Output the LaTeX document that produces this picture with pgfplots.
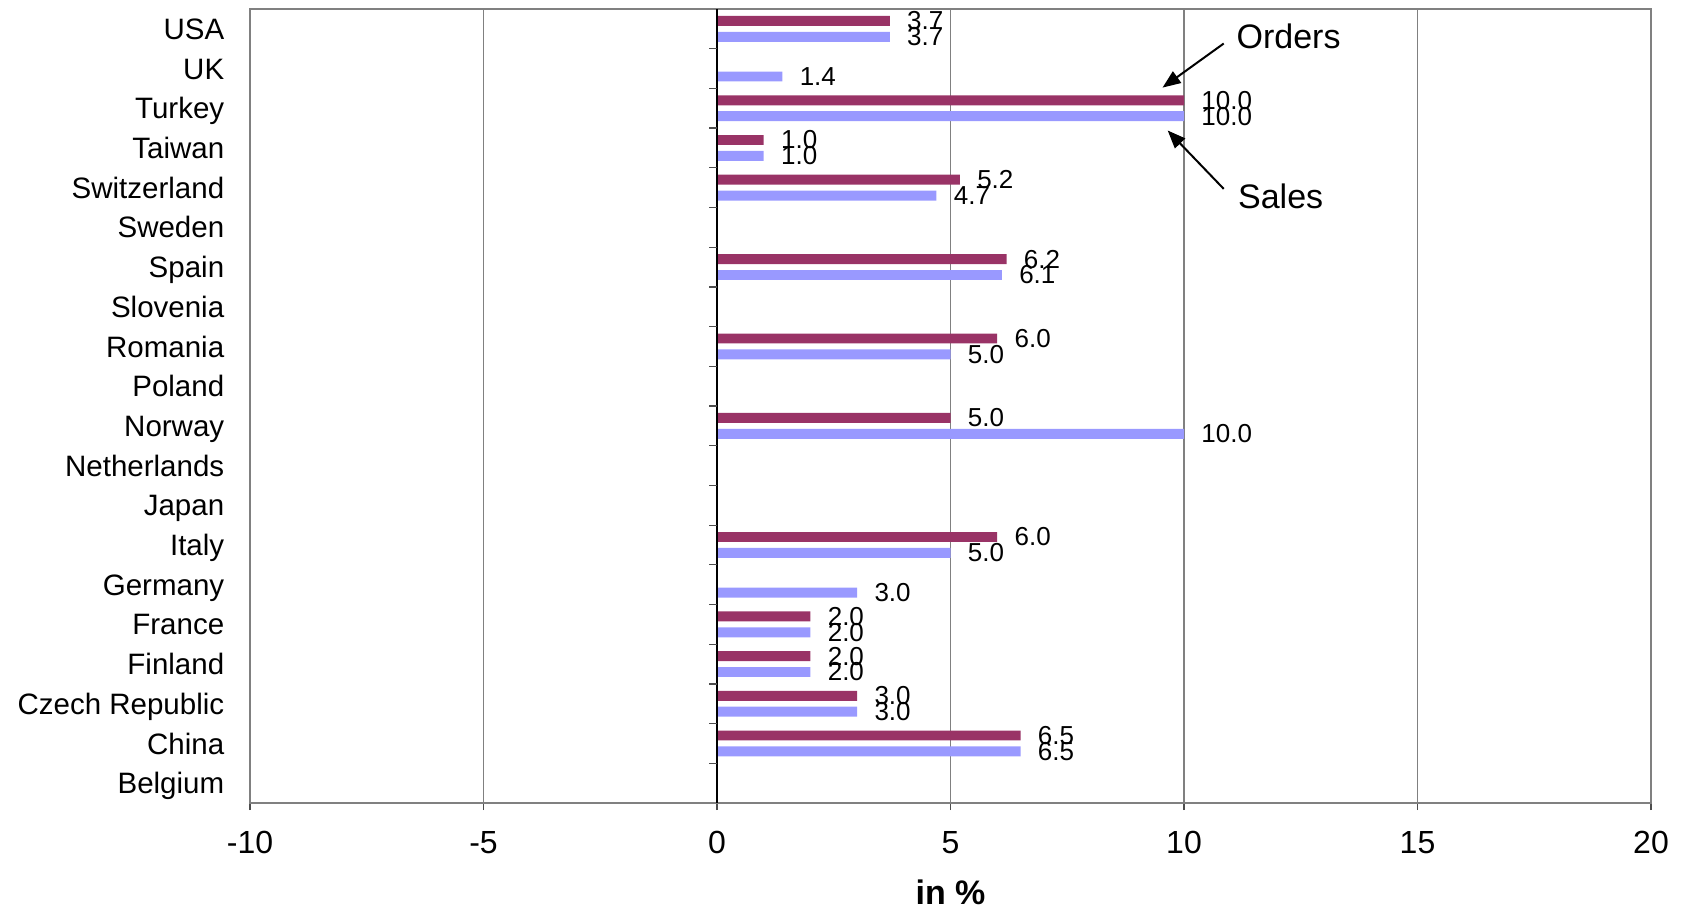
\documentclass[border=0pt]{standalone}
\usepackage{fontspec}
\setmainfont{Liberation Sans}
\usepackage{pgfplots}
\pgfplotsset{compat=1.18}
\usetikzlibrary{arrows.meta}
\definecolor{orders}{HTML}{993366}
\definecolor{sales}{HTML}{9999FF}
\definecolor{framegray}{HTML}{808080}
\begin{document}
\begin{tikzpicture}
\begin{axis}[
  scale only axis, width=700.5pt, height=397pt,
  xmin=-10, xmax=20, ymin=-0.5, ymax=19.5,
  xtick={-10,-5,...,20},
  ytick={0,...,19},
  yticklabels={Belgium,China,Czech Republic,Finland,France,Germany,Italy,Japan,Netherlands,Norway,Poland,Romania,Slovenia,Spain,Sweden,Switzerland,Taiwan,Turkey,UK,USA},
  /pgf/number format/assume math mode=true,
  xticklabel style={font=\fontsize{16}{16}\selectfont, anchor=center, inner sep=0pt, yshift=-16.2pt},
  yticklabel style={font=\fontsize{14.75}{15}\selectfont, anchor=base east, inner sep=0pt, xshift=-9.2pt, yshift=-5.3pt},
  xlabel={in \%},
  xlabel style={font=\fontsize{17}{17}\selectfont\bfseries, at={(axis description cs:0.5,0)}, anchor=center, inner sep=0pt, yshift=-44.5pt},
  xmajorgrids, grid style={framegray, line width=0.6pt},
  axis line style={framegray, line width=1.2pt},
  tick align=outside, xtick pos=bottom,
  xtick style={framegray!60!black, line width=0.6pt},
  ytick style={draw=none},
  major tick length=3.5pt,
  xbar, bar width=0.25,
  point meta=x,
  nodes near coords={\pgfmathprintnumber[fixed,fixed zerofill,precision=1]{\pgfplotspointmeta}},
  every node near coord/.append style={font=\fontsize{13}{13}\selectfont, anchor=west, inner sep=0pt, xshift=8.5pt, text=black},
  clip=false,
]
\addplot[xbar, bar shift=0.2, fill=orders, draw=none] coordinates {
  (3.7,19) (10.0,17) (1.0,16) (5.2,15) (6.2,13) (6.0,11) (5.0,9) (6.0,6) (2.0,4) (2.0,3) (3.0,2) (6.5,1)
};
\addplot[xbar, bar shift=-0.2, fill=sales, draw=none] coordinates {
  (3.7,19) (1.4,18) (10.0,17) (1.0,16) (4.7,15) (6.1,13) (5.0,11) (10.0,9) (5.0,6) (3.0,5) (2.0,4) (2.0,3) (3.0,2) (6.5,1)
};
\draw[black, line width=0.7pt] (axis cs:0,-0.5) -- (axis cs:0,19.5);
\pgfplotsinvokeforeach{0.5,1.5,...,18.5}{\draw[framegray!60!black, line width=0.6pt] (axis cs:0,#1) -- ([xshift=-4pt]axis cs:0,#1);}
\node[font=\fontsize{17}{17}\selectfont] at (axis cs:12.24,18.82) {Orders};
\draw[line width=1pt, -{Triangle[length=9pt,width=7pt]}] (axis cs:10.85,18.63) -- (axis cs:9.54,17.52);
\node[font=\fontsize{17}{17}\selectfont] at (axis cs:12.07,14.78) {Sales};
\draw[line width=1pt, -{Triangle[length=9pt,width=7pt]}] (axis cs:10.85,14.97) -- (axis cs:9.65,16.44);
\end{axis}
\path ([xshift=-125pt,yshift=-53.5pt]current axis.south west) rectangle ([xshift=19pt,yshift=4.5pt]current axis.north east);
\end{tikzpicture}
\end{document}
